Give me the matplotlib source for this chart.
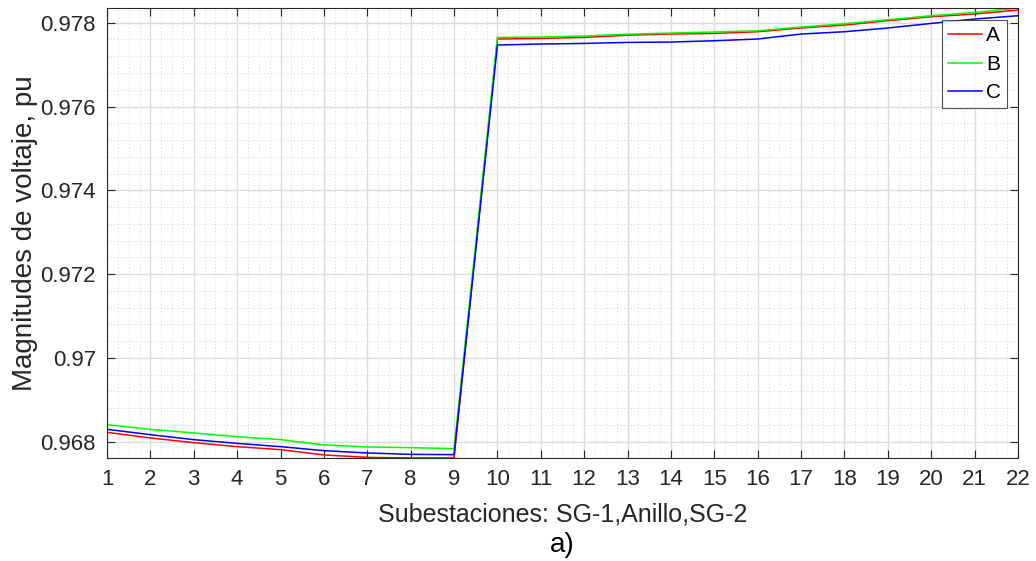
import numpy as np
import matplotlib
matplotlib.use("Agg")
import matplotlib.pyplot as plt
from matplotlib.ticker import AutoMinorLocator, FuncFormatter

# --- data ---
substations = list(range(1, 23))

phase_a = [0.968222, 0.968088, 0.967976, 0.967881, 0.967809, 0.967683, 0.967625,
           0.967611, 0.967610, 0.977611, 0.977625, 0.977649, 0.977702, 0.977730,
           0.977745, 0.977785, 0.977874, 0.977945, 0.978048, 0.978143, 0.978208,
           0.978303]
phase_b = [0.968406, 0.968294, 0.968208, 0.968119, 0.968048, 0.967921, 0.967874,
           0.967857, 0.967833, 0.977649, 0.977659, 0.977683, 0.977726, 0.977754,
           0.977778, 0.977809, 0.977897, 0.977976, 0.978072, 0.978167, 0.978246,
           0.978351]
phase_c = [0.968294, 0.968167, 0.968048, 0.967959, 0.967881, 0.967785, 0.967730,
           0.967697, 0.967690, 0.977468, 0.977492, 0.977506, 0.977530, 0.977539,
           0.977570, 0.977611, 0.977730, 0.977785, 0.977874, 0.977983, 0.978088,
           0.978167]

labels = ["A", "B", "C"]
colors = ["#ff0000", "#00ff00", "#0000ff"]

plt.rcParams["font.family"] = ["Liberation Sans", "DejaVu Sans"]

fig = plt.figure(figsize=(10.36, 5.61), dpi=100)
ax = fig.add_axes([0.1033, 0.1836, 0.8793, 0.8021])

for vals, lab, col in zip([phase_a, phase_b, phase_c], labels, colors):
    ax.plot(substations, vals, color=col, linewidth=1.1, label=lab)

# tight limits like MATLAB "axis tight"
all_vals = phase_a + phase_b + phase_c
ax.set_xlim(substations[0], substations[-1])
ax.set_ylim(min(all_vals), max(all_vals))

ax.set_xticks(substations)
ax.set_yticks([0.968, 0.970, 0.972, 0.974, 0.976, 0.978])
ax.yaxis.set_major_formatter(FuncFormatter(lambda v, p: f"{v:g}"))
ax.xaxis.set_minor_locator(AutoMinorLocator(4))
ax.yaxis.set_minor_locator(AutoMinorLocator(5))

ax.grid(which="major", color="#dcdcdc", linewidth=1.0, linestyle="-")
ax.grid(which="minor", color="#c8c8c8", linewidth=0.6, linestyle=(0, (1, 3)))
ax.set_axisbelow(True)

ax.tick_params(which="major", direction="in", length=6, width=0.8,
               top=True, right=True, labelsize=16, colors="#262626")
ax.tick_params(axis="x", which="major", pad=8)
ax.tick_params(axis="y", which="major", pad=8)
ax.tick_params(which="minor", direction="in", length=0, top=True, right=True)
for s in ax.spines.values():
    s.set_color("#262626")
    s.set_linewidth(0.8)

ax.set_ylabel("Magnitudes de voltaje, pu", fontsize=20, color="#262626", va="center")
ax.yaxis.set_label_coords(-0.09, 0.5)
ax.set_xlabel("Subestaciones: SG-1,Anillo,SG-2", fontsize=18, color="#262626", va="center")
ax.xaxis.set_label_coords(0.5, -0.125)
fig.text(0.5 * (0.1033 + 0.9826), 1 - 545 / 561, "a)", ha="center", va="center",
         fontsize=20, color="#000000")

leg = ax.legend(loc="upper right", fontsize=15, frameon=True, fancybox=False,
                handlelength=1.6, borderpad=0.3, labelspacing=0.45,
                handletextpad=0.2, borderaxespad=0, bbox_to_anchor=(0.988, 0.973))
leg.get_frame().set_edgecolor("#262626")
leg.get_frame().set_linewidth(0.8)

fig.savefig("out.png", dpi=100, facecolor="white")
